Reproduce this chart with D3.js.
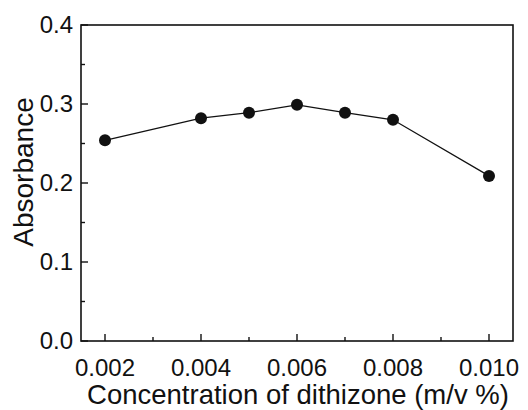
<!DOCTYPE html>
<html>
<head>
<meta charset="utf-8">
<script src="https://cdn.jsdelivr.net/npm/d3@7"></script>
<style>
  body { margin: 0; background: #fff; }
  text { font-family: "Liberation Sans", Arial, sans-serif; fill: #111; }
</style>
</head>
<body>
<svg id="chart" width="528" height="410"></svg>
<script>
const concentration = [0.002, 0.004, 0.005, 0.006, 0.007, 0.008, 0.010]
const absorbance = [0.254, 0.282, 0.289, 0.299, 0.289, 0.280, 0.209]
const errors = [0.004, 0.004, 0.004, 0.004, 0.003, 0.004, 0.002]
const xTicks = [0.002, 0.004, 0.006, 0.008, 0.010]
const xMinor = [0.003, 0.005, 0.007, 0.009]
const yTicks = [0, 0.1, 0.2, 0.3, 0.4]
const yMinor = [0.05, 0.15, 0.25, 0.35]

const svg = d3.select("#chart")
const plotL = 81, plotR = 513, plotT = 25, plotB = 341

const x = d3.scaleLinear().domain([0.0015, 0.0105]).range([plotL, plotR])
const y = d3.scaleLinear().domain([0, 0.4]).range([plotB, plotT])

// frame
svg.append("rect")
  .attr("x", plotL).attr("y", plotT)
  .attr("width", plotR - plotL).attr("height", plotB - plotT)
  .attr("fill", "none").attr("stroke", "#111").attr("stroke-width", 1.6)

// x ticks (inward)
svg.selectAll(".xt").data(xTicks).join("line")
  .attr("x1", d => x(d)).attr("x2", d => x(d))
  .attr("y1", plotB).attr("y2", plotB - 7)
  .attr("stroke", "#111").attr("stroke-width", 1.4)
svg.selectAll(".xm").data(xMinor).join("line")
  .attr("x1", d => x(d)).attr("x2", d => x(d))
  .attr("y1", plotB).attr("y2", plotB - 4)
  .attr("stroke", "#111").attr("stroke-width", 1.4)
svg.selectAll(".xl").data(xTicks).join("text")
  .attr("x", d => x(d)).attr("y", 376)
  .attr("text-anchor", "middle")
  .style("font-size", "24px")
  .text(d => d3.format(".3f")(d))

// y ticks (inward)
svg.selectAll(".yt").data(yTicks).join("line")
  .attr("x1", plotL).attr("x2", plotL + 7)
  .attr("y1", d => y(d)).attr("y2", d => y(d))
  .attr("stroke", "#111").attr("stroke-width", 1.4)
svg.selectAll(".ym").data(yMinor).join("line")
  .attr("x1", plotL).attr("x2", plotL + 4)
  .attr("y1", d => y(d)).attr("y2", d => y(d))
  .attr("stroke", "#111").attr("stroke-width", 1.4)
svg.selectAll(".yl").data(yTicks).join("text")
  .attr("x", 73).attr("y", d => y(d) + 8)
  .attr("text-anchor", "end")
  .style("font-size", "24px")
  .text(d => d3.format(".1f")(d))

// axis titles
svg.append("text")
  .attr("x", (plotL + plotR) / 2 + 1).attr("y", 404)
  .attr("text-anchor", "middle")
  .style("font-size", "27.5px")
  .text("Concentration of dithizone (m/v %)")
svg.append("text")
  .attr("transform", `translate(33,172) rotate(-90)`)
  .attr("text-anchor", "middle")
  .style("font-size", "28px")
  .text("Absorbance")

// data
const pts = concentration.map((c, i) => ({c, a: absorbance[i], e: errors[i]}))

svg.append("path")
  .datum(pts)
  .attr("fill", "none").attr("stroke", "#111").attr("stroke-width", 1.3)
  .attr("d", d3.line().x(d => x(d.c)).y(d => y(d.a)))

const eb = svg.selectAll(".eb").data(pts).join("g")
eb.append("line")
  .attr("x1", d => x(d.c)).attr("x2", d => x(d.c))
  .attr("y1", d => y(d.a - d.e)).attr("y2", d => y(d.a + d.e))
  .attr("stroke", "#111").attr("stroke-width", 1.3)
eb.append("line")
  .attr("x1", d => x(d.c) - 4).attr("x2", d => x(d.c) + 4)
  .attr("y1", d => y(d.a + d.e)).attr("y2", d => y(d.a + d.e))
  .attr("stroke", "#111").attr("stroke-width", 1.3)
eb.append("line")
  .attr("x1", d => x(d.c) - 4).attr("x2", d => x(d.c) + 4)
  .attr("y1", d => y(d.a - d.e)).attr("y2", d => y(d.a - d.e))
  .attr("stroke", "#111").attr("stroke-width", 1.3)

svg.selectAll(".pt").data(pts).join("circle")
  .attr("cx", d => x(d.c)).attr("cy", d => y(d.a))
  .attr("r", 6)
  .attr("fill", "#111")
</script>
</body>
</html>
